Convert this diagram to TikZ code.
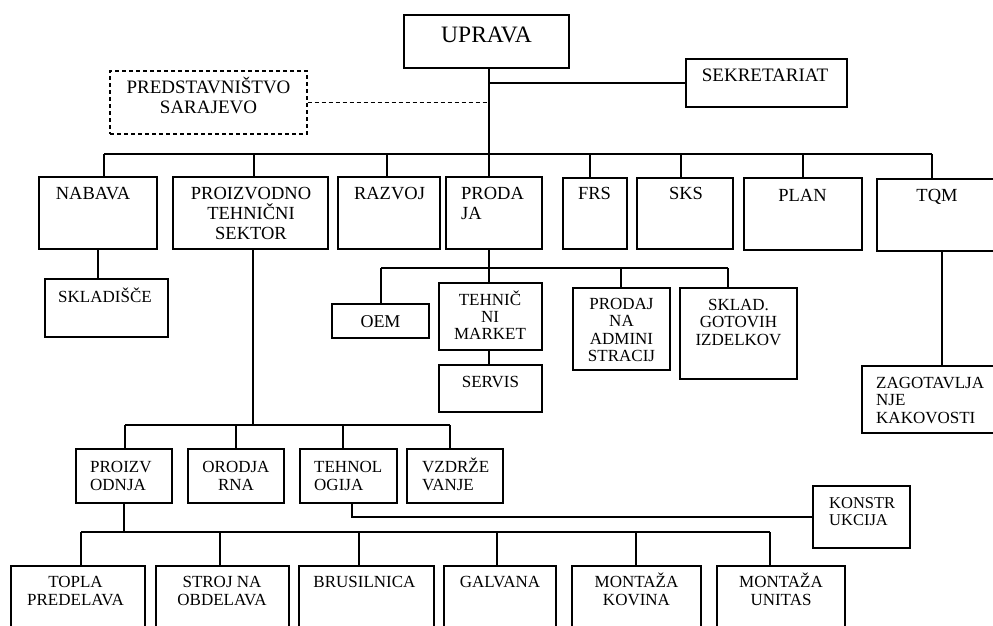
\documentclass[tikz,border=0pt]{standalone}
\usepackage{fontspec}
\setmainfont{Liberation Serif}
\usetikzlibrary{fit}
\tikzset{
  box/.style={draw, line width=1.2bp, inner sep=0pt},
  dbox/.style={box, dash pattern=on 4bp off 3bp},
  ln/.style={line width=1.2bp},
  dln/.style={line width=1.2bp, dash pattern=on 4bp off 3bp},
  txt/.style={inner sep=0pt, anchor=base, align=center, font=\fontsize{17bp}{18bp}\selectfont},
  txl/.style={inner sep=0pt, anchor=base west, align=left, font=\fontsize{17bp}{18bp}\selectfont},
  big/.style={font=\fontsize{18.5bp}{20bp}\selectfont},
}
\newcommand\orgbox[6][box]{%
  \path (#3,#4) coordinate (#2-nw) (#5,#6) coordinate (#2-se);
  \node[#1, fit=(#2-nw)(#2-se)] (#2) {};}
\begin{document}
\begin{tikzpicture}[x=1bp,y=-1bp]
\useasboundingbox (0,0) rectangle (993,626);
\clip (0,0) rectangle (993,626);
% boxes
\orgbox{UPRAVA}{404}{15}{569}{68}
\orgbox[dbox]{PRED}{110}{71}{307}{134}
\orgbox{SEK}{686}{59}{847}{107}
\orgbox{NABAVA}{39}{177}{157}{249}
\orgbox{PTS}{173}{177}{328}{249}
\orgbox{RAZVOJ}{338}{177}{440}{249}
\orgbox{PRODAJA}{446}{177}{542}{249}
\orgbox{FRS}{563}{178}{627}{249}
\orgbox{SKS}{637}{178}{733}{249}
\orgbox{PLAN}{744}{178}{862}{250}
\orgbox{TQM}{877}{179}{1005}{251}
\orgbox{SKLADISCE}{45}{279}{168}{337}
\orgbox{OEM}{332}{304}{429}{338}
\orgbox{TEHN}{439}{283}{542}{350}
\orgbox{SERVIS}{439}{365}{542}{412}
\orgbox{PRODAJNA}{573}{288}{670}{370}
\orgbox{SKLAD}{680}{288}{797}{379}
\orgbox{ZAGOT}{862}{366}{1005}{433}
\orgbox{PROIZV}{76}{449}{172}{503}
\orgbox{ORODJA}{188}{449}{284}{503}
\orgbox{TEHNOL}{300}{449}{397}{503}
\orgbox{VZDRZE}{407}{449}{503}{503}
\orgbox{KONSTR}{813}{486}{910}{548}
\orgbox{TOPLA}{11}{566}{145}{645}
\orgbox{STROJ}{156}{566}{289}{645}
\orgbox{BRUS}{299}{566}{434}{645}
\orgbox{GALV}{444}{566}{556}{645}
\orgbox{MKOV}{572}{566}{701}{645}
\orgbox{MUNI}{717}{566}{845}{645}
% texts (anchor base = baseline of the last line)
\node[txt, font=\fontsize{23.5bp}{26bp}\selectfont] (UPRAVA-t) at (486.5,43) {UPRAVA};
\node[txt, font=\fontsize{19bp}{20bp}\selectfont] (PRED-t) at (208.5,114) {PREDSTAVNIŠTVO\\SARAJEVO};
\node[txt, font=\fontsize{19bp}{20bp}\selectfont] (SEK-t) at (765,82) {SEKRETARIAT};
\node[txt, big] (NABAVA-t) at (93,199.5) {NABAVA};
\node[txt, big] (PTS-t) at (251,239.5) {PROIZVODNO\\TEHNIČNI\\SEKTOR};
\node[txt, big] (RAZVOJ-t) at (389.5,199.5) {RAZVOJ};
\node[txl, big] (PRODAJA-t) at (461,219.5) {PRODA\\JA};
\node[txt, big] (FRS-t) at (594.5,200) {FRS};
\node[txt, big] (SKS-t) at (686,199.5) {SKS};
\node[txt, big] (PLAN-t) at (802.5,202) {PLAN};
\node[txt, big] (TQM-t) at (937,202) {TQM};
\node[txt] (SKLADISCE-t) at (105,302) {SKLADIŠČE};
\node[txt, font=\fontsize{18bp}{18bp}\selectfont] (OEM-t) at (380.5,327) {OEM};
\node[txt, font=\fontsize{17bp}{17bp}\selectfont] (TEHN-t) at (490,339) {TEHNIČ\\NI\\MARKET};
\node[txt] (SERVIS-t) at (490.5,387) {SERVIS};
\node[txt, font=\fontsize{17bp}{17.5bp}\selectfont] (PRODAJNA-t) at (621.5,361.5) {PRODAJ\\NA\\ADMINI\\STRACIJ};
\node[txt, font=\fontsize{17bp}{17.5bp}\selectfont] (SKLAD-t) at (738.5,345) {SKLAD.\\GOTOVIH\\IZDELKOV};
\node[txl, font=\fontsize{17bp}{17.5bp}\selectfont] (ZAGOT-t) at (876,423) {ZAGOTAVLJA\\NJE\\KAKOVOSTI};
\node[txl] (PROIZV-t) at (90,490) {PROIZV\\ODNJA};
\node[txt] (ORODJA-t) at (236,490) {ORODJA\\RNA};
\node[txl] (TEHNOL-t) at (314,490) {TEHNOL\\OGIJA};
\node[txl] (VZDRZE-t) at (422,490) {VZDRŽE\\VANJE};
\node[txl, font=\fontsize{16.5bp}{17bp}\selectfont] (KONSTR-t) at (829,525) {KONSTR\\UKCIJA};
\node[txt] (TOPLA-t) at (75.5,605) {TOPLA\\PREDELAVA};
\node[txt] (STROJ-t) at (222,605) {STROJ NA\\OBDELAVA};
\node[txt] (BRUS-t) at (364.5,587) {BRUSILNICA};
\node[txt] (GALV-t) at (500,587) {GALVANA};
\node[txt] (MKOV-t) at (636.5,605) {MONTAŽA\\KOVINA};
\node[txt] (MUNI-t) at (781,605) {MONTAŽA\\UNITAS};
% top connectors
\coordinate (trunk) at (489,154);
\draw[ln] (UPRAVA.south -| trunk) -- (PRODAJA.north -| trunk);
\draw[ln] (SEK.west -| trunk) -- (SEK.west);
\draw[dln] (PRED.east) -- (PRED.east -| trunk);
% main bus
\draw[ln] (104,154) -- (932,154);
\foreach \x/\n in {104/NABAVA, 254/PTS, 387/RAZVOJ, 590/FRS, 681/SKS, 803/PLAN, 932/TQM}
  \draw[ln] (\x,154) -- (\n.north -| \x,0);
% nabava
\draw[ln] (NABAVA.south -| 98,0) -- (SKLADISCE.north -| 98,0);
% prodaja subtree
\draw[ln] (PRODAJA.south -| trunk) -- (TEHN.north -| trunk);
\draw[ln] (381,268) -- (728,268);
\foreach \x/\n in {381/OEM, 621/PRODAJNA, 728/SKLAD}
  \draw[ln] (\x,268) -- (\n.north -| \x,0);
\draw[ln] (TEHN.south -| trunk) -- (SERVIS.north -| trunk);
% tqm
\draw[ln] (TQM.south -| 942,0) -- (ZAGOT.north -| 942,0);
% proizvodno tehnicni sektor
\draw[ln] (PTS.south -| 253,0) -- (253,425);
\draw[ln] (125,425) -- (450,425);
\foreach \x/\n in {125/PROIZV, 236/ORODJA, 343/TEHNOL, 450/VZDRZE}
  \draw[ln] (\x,425) -- (\n.north -| \x,0);
% tehnologija - konstrukcija
\draw[ln] (TEHNOL.south -| 352,0) |- (KONSTR.west);
% proizvodnja
\draw[ln] (PROIZV.south -| 124,0) -- (124,532);
\draw[ln] (81,532) -- (770,532);
\foreach \x/\n in {81/TOPLA, 220/STROJ, 359/BRUS, 497/GALV, 636/MKOV, 770/MUNI}
  \draw[ln] (\x,532) -- (\n.north -| \x,0);
\end{tikzpicture}
\end{document}
